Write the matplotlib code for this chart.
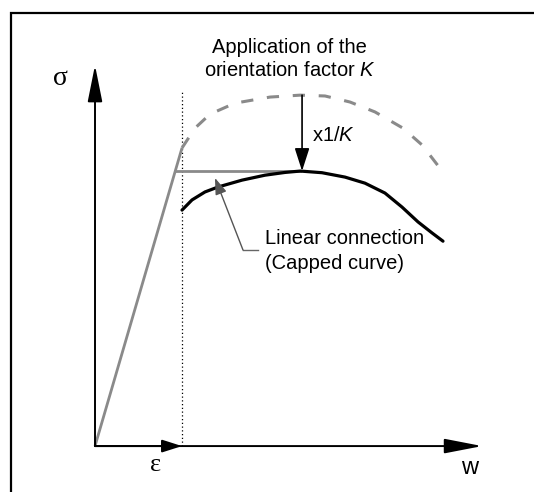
import matplotlib.pyplot as plt
from matplotlib.patches import Rectangle

plt.rcParams['font.family'] = 'Liberation Sans'
plt.rcParams['mathtext.fontset'] = 'custom'
plt.rcParams['mathtext.it'] = 'Liberation Sans:italic'
plt.rcParams['mathtext.rm'] = 'Liberation Sans'

# ── Curve data (w normalised to the elastic limit eps, sigma to the capped peak) ──
eps = 1.0
sigma_el = 1.084          # top of the elastic branch

w_raw = [1.0, 1.149, 1.322, 1.609, 2.011, 2.356, 2.644, 2.931, 3.218, 3.540, 3.759, 4.0]
s_raw = [1.084, 1.156, 1.207, 1.247, 1.269, 1.276, 1.273, 1.251, 1.215, 1.156, 1.095, 0.996]

w_cap = [1.0, 1.115, 1.264, 1.414, 1.690, 1.954, 2.184, 2.36, 2.609, 2.874,
         3.103, 3.333, 3.529, 3.713, 3.874, 4.0]
s_cap = [0.858, 0.895, 0.924, 0.942, 0.967, 0.985, 0.995, 1.0, 0.994, 0.978,
         0.956, 0.920, 0.869, 0.815, 0.775, 0.745]

w_peak, s_peak, s_peak_raw = 2.36, 1.0, 1.276

GRAY = '#8a8a8a'
FS = 14.5

fig = plt.figure(figsize=(5.34, 4.92), dpi=100)
ax = fig.add_axes([0, 0, 1, 1])
ax.set_xlim(-1.092, 5.046)
ax.set_ylim(-0.167, 1.622)
ax.axis('off')

# frame
fig.patches.append(Rectangle((11 / 534, -0.1), 1.2, 1 - 13 / 492 + 0.1,
                             transform=fig.transFigure, fill=False,
                             edgecolor='black', linewidth=1.6))

# axes arrows
ax.annotate('', xy=(0, 1.385), xytext=(0, 0),
            arrowprops=dict(arrowstyle='-|>,head_length=1.5,head_width=0.3',
                            mutation_scale=15, color='black', lw=1.4,
                            shrinkA=0, shrinkB=0))
ax.annotate('', xy=(4.45, 0), xytext=(0, 0),
            arrowprops=dict(arrowstyle='-|>,head_length=1.55,head_width=0.3',
                            mutation_scale=15, color='black', lw=1.4,
                            shrinkA=0, shrinkB=0))
ax.annotate('', xy=(eps, 0), xytext=(0, 0),
            arrowprops=dict(arrowstyle='-|>,head_length=1.1,head_width=0.35',
                            mutation_scale=11, color='black', lw=1.4,
                            shrinkA=0, shrinkB=0))

# elastic limit marker
ax.plot([eps, eps], [0, 1.295], color='black', lw=0.9, ls=(0, (1, 2)))

# elastic branch
ax.plot([0, eps], [0, sigma_el], color=GRAY, lw=2.0, solid_capstyle='butt')

# raw curve (before orientation factor)
ax.plot(w_raw, s_raw, color=GRAY, lw=2.2, ls=(0, (4, 4.5)))

# capped plateau
ax.plot([s_peak / sigma_el * eps, w_peak], [s_peak, s_peak], color=GRAY, lw=2.0)

# scaled curve
ax.plot(w_cap, s_cap, color='black', lw=2.3, solid_capstyle='round',
        solid_joinstyle='round')

# x1/K arrow
ax.annotate('', xy=(w_peak + 0.02, s_peak), xytext=(w_peak + 0.02, s_peak_raw),
            arrowprops=dict(arrowstyle='-|>,head_length=1.4,head_width=0.45',
                            mutation_scale=10, color='black', lw=1.2,
                            shrinkA=0, shrinkB=0))
ax.text(2.494, 1.131, r'x1/$K$', fontsize=FS, va='center', ha='left')

# title text
ax.text(2.24, 1.451, 'Application of the', fontsize=FS, ha='center', va='center')
ax.text(2.24, 1.367, r'orientation factor $K$', fontsize=FS, ha='center', va='center')

# leader for the plateau
ax.plot([1.874, 1.701], [0.713, 0.713], color='#666666', lw=1.0)
ax.annotate('', xy=(1.379, 0.975), xytext=(1.701, 0.713),
            arrowprops=dict(arrowstyle='-|>,head_length=1.0,head_width=0.35',
                            mutation_scale=10, color='#555555', lw=1.0,
                            shrinkA=0, shrinkB=0))
ax.text(1.954, 0.756, 'Linear connection', fontsize=FS, va='center', ha='left')
ax.text(1.954, 0.665, '(Capped curve)', fontsize=FS, va='center', ha='left')

# axis symbols
ax.text(-0.402, 1.338, 'σ', fontsize=20, family='Liberation Serif',
        ha='center', va='center')
ax.text(0.701, -0.069, 'ε', fontsize=19, family='Liberation Serif',
        ha='center', va='center')
ax.text(4.31, -0.08, 'w', fontsize=17, ha='center', va='center')

plt.savefig('out.png', dpi=100)
